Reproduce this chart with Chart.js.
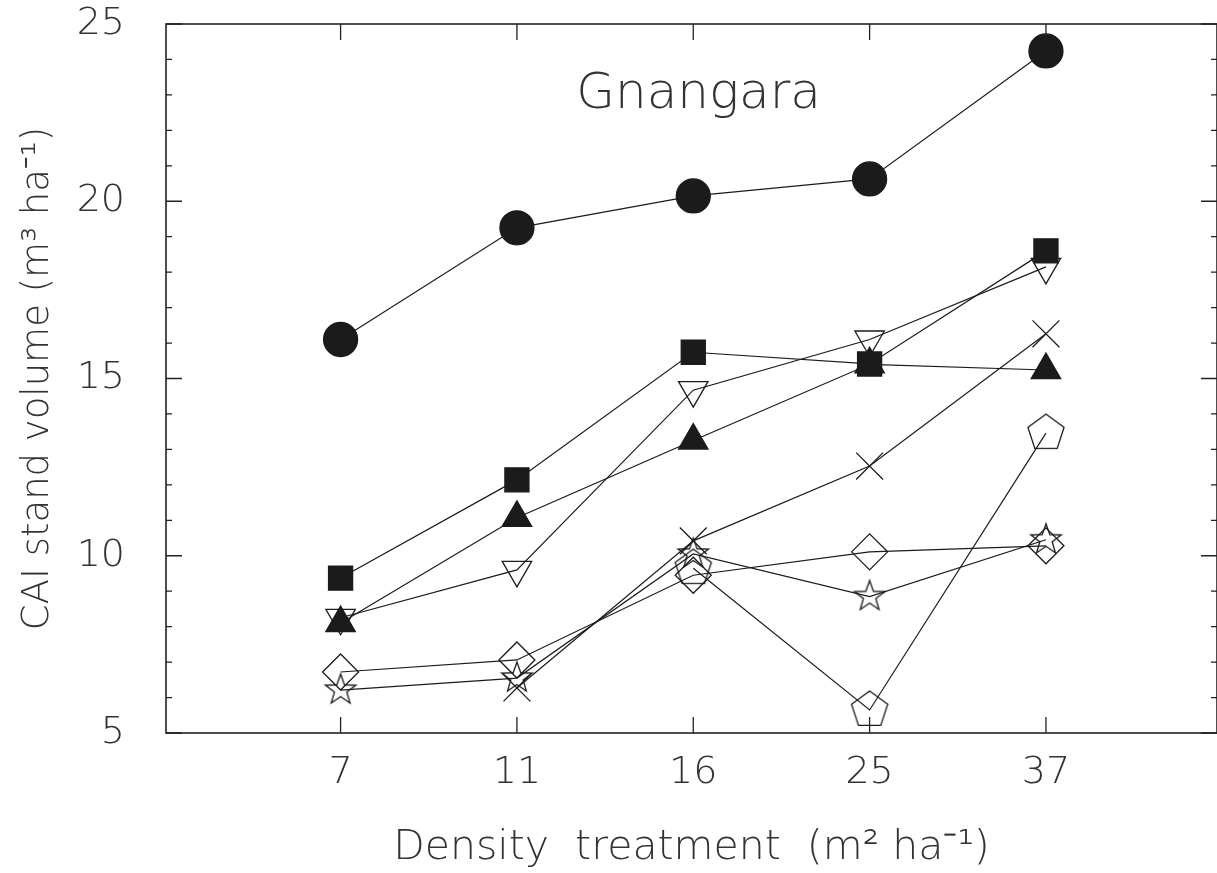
<!DOCTYPE html>
<html>
<head>
<meta charset="utf-8">
<script src="https://cdn.jsdelivr.net/npm/chart.js@4.4.1/dist/chart.umd.min.js"></script>
<style>
  html, body { margin: 0; padding: 0; background: #fff; }
</style>
</head>
<body>
<canvas id="cai__grafico" width="1217" height="873"></canvas>
<script>
// tratamientos de densidad (m2 ha-1) y su posicion en el eje x
const categorias = ['7', '11', '16', '25', '37']
const posiciones = [1, 2, 3, 4, 5]
const ticksY = [5, 10, 15, 20, 25]

// CAI volumen (m3 ha-1), una lista por serie (null = sin dato)
const circulos = [16.1, 19.25, 20.15, 20.63, 24.24]
const cuadrados = [9.37, 12.14, 15.74, 15.41, 18.6]
const triangulos = [8.1, 11.07, 13.25, 15.4, 15.24]
const triangulosInv = [8.25, 9.6, 14.67, 16.1, 18.15]
const cruces = [null, 6.27, 10.42, 12.53, 16.26]
const rombos = [6.72, 7.06, 9.45, 10.11, 10.28]
const estrellas = [6.21, 6.55, 10.05, 8.85, 10.45]
const pentagonos = [null, null, 9.65, 5.65, 13.46]

const tinta = '#1b1b1b'
const texto = '#333333'
const fuente = '"DejaVu Sans", "Liberation Sans", sans-serif'

// marcadores que Chart.js no trae: pentagono y estrella de 5 puntas
const marcador = (lado, dibujar) => {
    const c = document.createElement('canvas')
    c.width = lado
    c.height = lado
    const g = c.getContext('2d')
    g.strokeStyle = tinta
    g.lineWidth = 1.3
    g.beginPath()
    dibujar(g, lado / 2)
    g.closePath()
    g.stroke()
    return c
}

const pentagono = marcador(44, (g, m) => {
    const r = 19
    for (let k = 0; k < 5; k++) {
        const a = -Math.PI / 2 + k * 2 * Math.PI / 5
        g.lineTo(m + r * Math.cos(a), m + r * Math.sin(a))
    }
})

const estrella = marcador(40, (g, m) => {
    const r1 = 16, r2 = 6.5
    for (let k = 0; k < 10; k++) {
        const a = -Math.PI / 2 + k * Math.PI / 5
        const r = k % 2 === 0 ? r1 : r2
        g.lineTo(m + r * Math.cos(a), m + r * Math.sin(a))
    }
})

const serie = (valores, estilo) => Object.assign({
    data: posiciones.map((p, i) => ({ x: p, y: valores[i] })),
    borderColor: tinta,
    borderWidth: 1.2,
    pointBorderColor: tinta,
    pointBorderWidth: 1.3,
    pointBackgroundColor: 'rgba(0,0,0,0)',
    pointHoverRadius: 0,
    fill: false,
    tension: 0,
    clip: false
}, estilo)

// sin relleno extra por las etiquetas: el area queda fija
const sinRelleno = s => {
    s.paddingTop = 0
    s.paddingBottom = 0
    s.paddingLeft = 0
    s.paddingRight = 0
}

// marco con marcas hacia dentro en los cuatro lados
const marcoEjes = {
    id: 'marcoEjes',
    afterDraw(chart) {
        const ctx = chart.ctx
        const a = chart.chartArea
        const x = chart.scales.x
        const y = chart.scales.y
        ctx.save()
        ctx.strokeStyle = '#222'
        ctx.lineWidth = 1.6
        ctx.strokeRect(a.left, a.top, a.right - a.left, a.bottom - a.top)
        ctx.lineWidth = 1.3
        ctx.beginPath()
        for (let v = 5; v <= 25; v++) {
            const py = y.getPixelForValue(v)
            const largo = v % 5 === 0 ? 16 : 6
            ctx.moveTo(a.left, py)
            ctx.lineTo(a.left + largo, py)
            ctx.moveTo(a.right, py)
            ctx.lineTo(a.right - largo, py)
        }
        posiciones.forEach(p => {
            const px = x.getPixelForValue(p)
            ctx.moveTo(px, a.bottom)
            ctx.lineTo(px, a.bottom - 16)
            ctx.moveTo(px, a.top)
            ctx.lineTo(px, a.top + 16)
        })
        ctx.stroke()

        ctx.font = '200 50px ' + fuente
        ctx.fillStyle = texto
        ctx.textAlign = 'center'
        ctx.textBaseline = 'alphabetic'
        ctx.fillText('Gnangara', x.getPixelForValue(3.03), y.getPixelForValue(22.63))
        ctx.restore()
    }
}

let cai__grafico = document.getElementById('cai__grafico').getContext('2d')
var caiChart = new Chart(cai__grafico, {
    type: 'line',
    data: {
        datasets: [
            serie(circulos, { pointStyle: 'circle', pointRadius: 17, pointBackgroundColor: tinta }),
            serie(cuadrados, { pointStyle: 'rect', pointRadius: 17, pointBackgroundColor: tinta }),
            serie(triangulos, { pointStyle: 'triangle', pointRadius: 17, pointBackgroundColor: tinta }),
            serie(triangulosInv, { pointStyle: 'triangle', pointRadius: 17, pointRotation: 180 }),
            serie(cruces, { pointStyle: 'crossRot', pointRadius: 19 }),
            serie(rombos, { pointStyle: 'rectRot', pointRadius: 18 }),
            serie(estrellas, { pointStyle: estrella, pointRadius: 16 }),
            serie(pentagonos, { pointStyle: pentagono, pointRadius: 19 })
        ]
    },
    options: {
        responsive: false,
        animation: false,
        events: [],
        layout: {
            autoPadding: false,
            padding: { top: 24, right: 0, left: 0, bottom: 0 }
        },
        plugins: {
            legend: { display: false },
            tooltip: { enabled: false }
        },
        scales: {
            x: {
                type: 'linear',
                min: 0.01,
                max: 5.97,
                grid: { display: false, drawTicks: false },
                border: { display: false },
                afterBuildTicks: s => { s.ticks = posiciones.map(v => ({ value: v })) },
                afterFit: s => { s.height = 140; sinRelleno(s) },
                ticks: {
                    callback: v => categorias[v - 1],
                    autoSkip: false,
                    maxRotation: 0,
                    padding: 17,
                    color: texto,
                    font: { family: fuente, size: 38, weight: 200 }
                },
                title: {
                    display: true,
                    text: 'Density  treatment  (m² ha⁻¹)',
                    color: texto,
                    padding: { top: 0, bottom: 0 },
                    font: { family: fuente, size: 41, weight: 200 }
                }
            },
            y: {
                min: 5,
                max: 25,
                grid: { display: false, drawTicks: false },
                border: { display: false },
                afterBuildTicks: s => { s.ticks = ticksY.map(v => ({ value: v })) },
                afterFit: s => { s.width = 166; sinRelleno(s) },
                ticks: {
                    padding: 41,
                    color: texto,
                    font: { family: fuente, size: 38, weight: 200 }
                },
                title: {
                    display: true,
                    text: 'CAI stand volume (m³ ha⁻¹)',
                    color: texto,
                    padding: { top: 16, bottom: 0 },
                    font: { family: fuente, size: 37, weight: 200 }
                }
            }
        }
    },
    plugins: [marcoEjes]
})
</script>
</body>
</html>
